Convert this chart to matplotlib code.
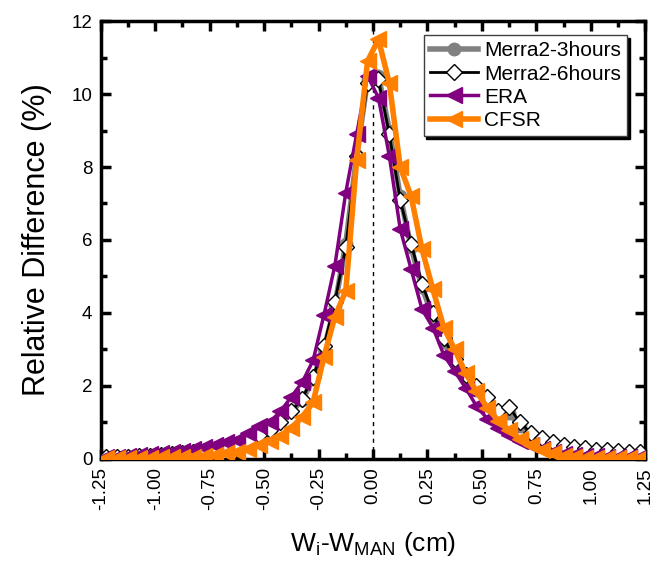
import matplotlib
matplotlib.use("Agg")
import matplotlib.pyplot as plt
from matplotlib.ticker import MultipleLocator

plt.rcParams['font.family'] = ['Liberation Sans', 'DejaVu Sans']

x = [-1.225, -1.175, -1.125, -1.075, -1.025, -0.975, -0.925, -0.875, -0.825, -0.775,
     -0.725, -0.675, -0.625, -0.575, -0.525, -0.475, -0.425, -0.375, -0.325, -0.275,
     -0.225, -0.175, -0.125, -0.075, -0.025, 0.025, 0.075, 0.125, 0.175, 0.225,
     0.275, 0.325, 0.375, 0.425, 0.475, 0.525, 0.575, 0.625, 0.675, 0.725,
     0.775, 0.825, 0.875, 0.925, 0.975, 1.025, 1.075, 1.125, 1.175, 1.225]

merra3 = [0.04, 0.05, 0.06, 0.07, 0.08, 0.10, 0.12, 0.15, 0.18, 0.22,
          0.27, 0.33, 0.40, 0.50, 0.65, 0.80, 1.00, 1.30, 1.60, 2.20,
          3.00, 4.20, 5.90, 8.30, 10.40, 10.50, 9.00, 7.20, 5.80, 4.70,
          3.90, 3.20, 2.70, 2.20, 1.90, 1.60, 1.20, 1.25, 0.90, 0.60,
          0.50, 0.40, 0.32, 0.25, 0.20, 0.17, 0.14, 0.12, 0.10, 0.08]

merra6 = [0.04, 0.05, 0.06, 0.07, 0.08, 0.10, 0.12, 0.15, 0.18, 0.22,
          0.27, 0.33, 0.40, 0.50, 0.65, 0.80, 1.00, 1.30, 1.65, 2.25,
          3.10, 4.30, 5.80, 8.30, 10.30, 10.40, 8.90, 7.10, 5.90, 4.80,
          4.00, 3.30, 2.75, 2.30, 2.00, 1.70, 1.30, 1.42, 1.00, 0.70,
          0.57, 0.47, 0.38, 0.33, 0.30, 0.25, 0.24, 0.22, 0.20, 0.18]

era = [0.05, 0.06, 0.08, 0.10, 0.12, 0.15, 0.18, 0.22, 0.26, 0.32,
       0.38, 0.45, 0.52, 0.70, 0.90, 1.00, 1.30, 1.70, 2.10, 2.70,
       3.95, 5.30, 7.30, 8.90, 10.50, 9.90, 8.30, 6.30, 5.20, 4.10,
       3.60, 2.85, 2.40, 1.95, 1.45, 1.10, 0.85, 0.65, 0.50, 0.38,
       0.28, 0.20, 0.14, 0.10, 0.08, 0.07, 0.06, 0.05, 0.05, 0.04]

cfsr = [0.02, 0.02, 0.03, 0.03, 0.03, 0.04, 0.04, 0.05, 0.06, 0.07,
        0.10, 0.15, 0.20, 0.28, 0.38, 0.50, 0.62, 0.85, 1.15, 1.55,
        2.80, 3.90, 4.60, 8.20, 10.90, 11.50, 10.30, 8.00, 7.20, 5.75,
        4.65, 3.60, 3.00, 2.35, 1.85, 1.40, 1.05, 0.78, 0.55, 0.38,
        0.25, 0.15, 0.08, 0.04, 0.02, 0.02, 0.01, 0.01, 0.01, 0.01]

xticks = [-1.25, -1.00, -0.75, -0.50, -0.25, 0.00, 0.25, 0.50, 0.75, 1.00, 1.25]
xticklabels = ["-1.25", "-1.00", "-0.75", "-0.50", "-0.25", "0.00", "0.25", "0.50", "0.75", "1.00", "1.25"]
yticks = [0, 2, 4, 6, 8, 10, 12]

fig = plt.figure(figsize=(6.59, 5.70), dpi=100)
ax = fig.add_axes([0.153, 0.195, 0.826, 0.768])

ax.axvline(0, color='black', linestyle=(0, (3, 3)), linewidth=1.0, zorder=1)

ax.plot(x, merra3, color='#808080', linewidth=4.0, marker='o', markersize=9,
        markerfacecolor='#808080', markeredgecolor='#808080', label='Merra2-3hours', zorder=2)
ax.plot(x, merra6, color='black', linewidth=2.0, marker='D', markersize=8,
        markerfacecolor='white', markeredgecolor='black', markeredgewidth=1.0,
        label='Merra2-6hours', zorder=3)
ax.plot(x, era, color='#800080', linewidth=2.5, marker='<', markersize=11,
        markerfacecolor='#800080', markeredgecolor='#800080', label='ERA', zorder=4)
ax.plot(x, cfsr, color='#FF8000', linewidth=4.0, marker='<', markersize=11,
        markerfacecolor='#FF8000', markeredgecolor='#FF8000', label='CFSR', zorder=5)

ax.set_xlim(-1.25, 1.25)
ax.set_ylim(0, 12)
ax.set_xticks(xticks)
ax.set_xticklabels(xticklabels, rotation=90)
ax.set_yticks(yticks)
ax.xaxis.set_minor_locator(MultipleLocator(0.125))
ax.yaxis.set_minor_locator(MultipleLocator(1))
ax.tick_params(which='both', direction='in', top=True, right=True, labelsize=13.5)
ax.tick_params(which='major', length=7, width=2.5)
ax.tick_params(which='minor', length=4, width=2.5)
ax.tick_params(axis='x', which='major', pad=6)
ax.tick_params(axis='y', which='major', pad=6)
for s in ax.spines.values():
    s.set_linewidth(2.5)

ax.set_ylabel('Relative Difference (%)', fontsize=22, labelpad=14)
ax.set_xlabel(r'W$_\mathregular{i}$-W$_\mathregular{MAN}$ (cm)', fontsize=19, labelpad=14)

leg = ax.legend(loc='upper right', bbox_to_anchor=(0.967, 0.968), fontsize=15,
                fancybox=False, shadow={'color': 'black', 'alpha': 1.0}, framealpha=1.0,
                edgecolor='#404040', handlelength=2.3, borderpad=0.3, labelspacing=0.2,
                handletextpad=0.3, borderaxespad=0.0)
leg.get_frame().set_linewidth(1.0)

fig.savefig('out.png', dpi=100)
